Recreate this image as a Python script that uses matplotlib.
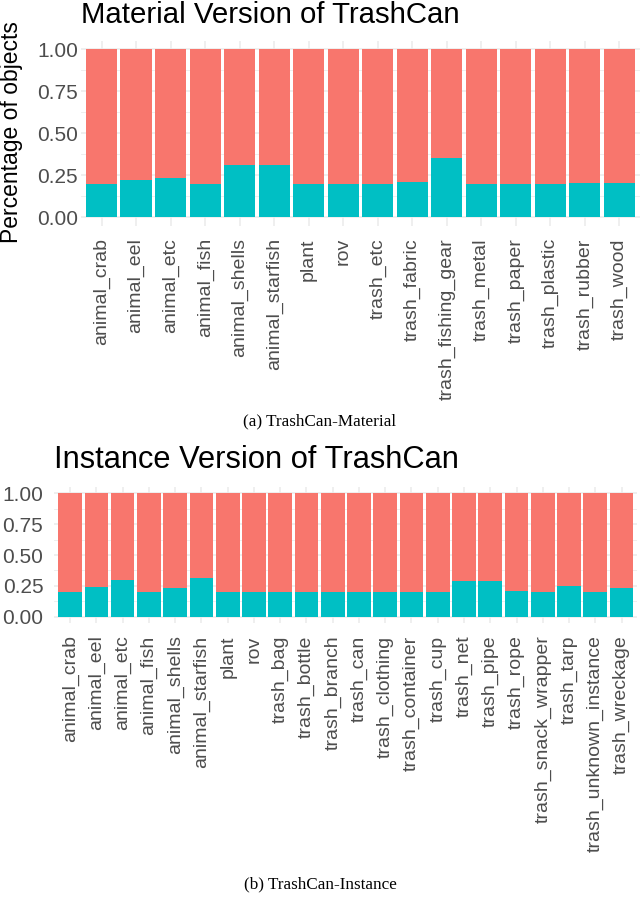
import numpy as np
import matplotlib.pyplot as plt
from matplotlib.ticker import MultipleLocator

# teal share (lower part) of each stacked bar
material_cats = ["animal_crab", "animal_eel", "animal_etc", "animal_fish",
                 "animal_shells", "animal_starfish", "plant", "rov",
                 "trash_etc", "trash_fabric", "trash_fishing_gear",
                 "trash_metal", "trash_paper", "trash_plastic",
                 "trash_rubber", "trash_wood"]
material_low = [0.20, 0.222, 0.235, 0.20, 0.313, 0.311, 0.20, 0.20,
                0.20, 0.212, 0.352, 0.20, 0.20, 0.20, 0.205, 0.205]

instance_cats = ["animal_crab", "animal_eel", "animal_etc", "animal_fish",
                 "animal_shells", "animal_starfish", "plant", "rov",
                 "trash_bag", "trash_bottle", "trash_branch", "trash_can",
                 "trash_clothing", "trash_container", "trash_cup",
                 "trash_net", "trash_pipe", "trash_rope",
                 "trash_snack_wrapper", "trash_tarp",
                 "trash_unknown_instance", "trash_wreckage"]
instance_low = [0.20, 0.238, 0.295, 0.20, 0.235, 0.314, 0.20, 0.20,
                0.20, 0.203, 0.20, 0.198, 0.203, 0.20, 0.20,
                0.286, 0.289, 0.211, 0.20, 0.251, 0.20, 0.235]

y_ticks = [0.0, 0.25, 0.5, 0.75, 1.0]
y_labels = ["0.00", "0.25", "0.50", "0.75", "1.00"]

teal = "#00BFC4"
red = "#F8766D"
W, H = 640, 911

fig = plt.figure(figsize=(W / 100, H / 100), dpi=100)
fig.patch.set_facecolor("white")


def px_axes(left, top, right, bottom):
    return fig.add_axes([left / W, 1 - bottom / H, (right - left) / W, (bottom - top) / H])


def panel(ax, cats, low, title, title_size, ypad, title_y):
    x = np.arange(len(cats))
    low = np.array(low)
    ax.bar(x, low, width=0.9, color=teal, zorder=2)
    ax.bar(x, 1 - low, width=0.9, bottom=low, color=red, zorder=2)
    ax.set_xlim(-0.6, len(cats) - 0.4)
    ax.set_ylim(-0.05, 1.05)
    ax.set_xticks(x)
    ax.set_xticklabels(cats, rotation=90, ha="center", va="top",
                       fontsize=14, color="#4D4D4D", family="Liberation Sans")
    ax.set_yticks(y_ticks)
    ax.set_yticklabels(y_labels, fontsize=15, color="#4D4D4D", family="Liberation Sans")
    ax.yaxis.set_minor_locator(MultipleLocator(0.125))
    ax.tick_params(axis="x", length=0, pad=9)
    ax.tick_params(axis="y", length=0, pad=ypad)
    ax.tick_params(which="minor", length=0)
    for s in ax.spines.values():
        s.set_visible(False)
    ax.set_axisbelow(True)
    ax.grid(True, which="major", color="#EBEBEB", lw=1.1, zorder=0)
    ax.grid(True, which="minor", axis="y", color="#EBEBEB", lw=0.6, zorder=0)
    pos = ax.get_position()
    fig.text(pos.x0, title_y, title, fontsize=title_size, family="Liberation Sans",
             ha="left", va="baseline")


ax1 = px_axes(80.8, 40.6, 640, 225.7)
panel(ax1, material_cats, material_low, "Material Version of TrashCan", 21.2,
      2, 1 - 23 / H)
fig.text(12 / W, 1 - 132 / H, "Percentage of objects", rotation=90,
         fontsize=16.5, family="Liberation Sans", ha="center", va="center")

ax2 = px_axes(54.4, 487.2, 637.3, 622.9)
panel(ax2, instance_cats, instance_low, "Instance Version of TrashCan", 22.2,
      8, 1 - 468 / H)

fig.text(0.5, 1 - 421 / H, "(a) TrashCan-Material", fontsize=12.3,
         family="Liberation Serif", ha="center", va="center")
fig.text(0.5, 1 - 884 / H, "(b) TrashCan-Instance", fontsize=12.3,
         family="Liberation Serif", ha="center", va="center")

fig.savefig("out.png", dpi=100, facecolor="white")
